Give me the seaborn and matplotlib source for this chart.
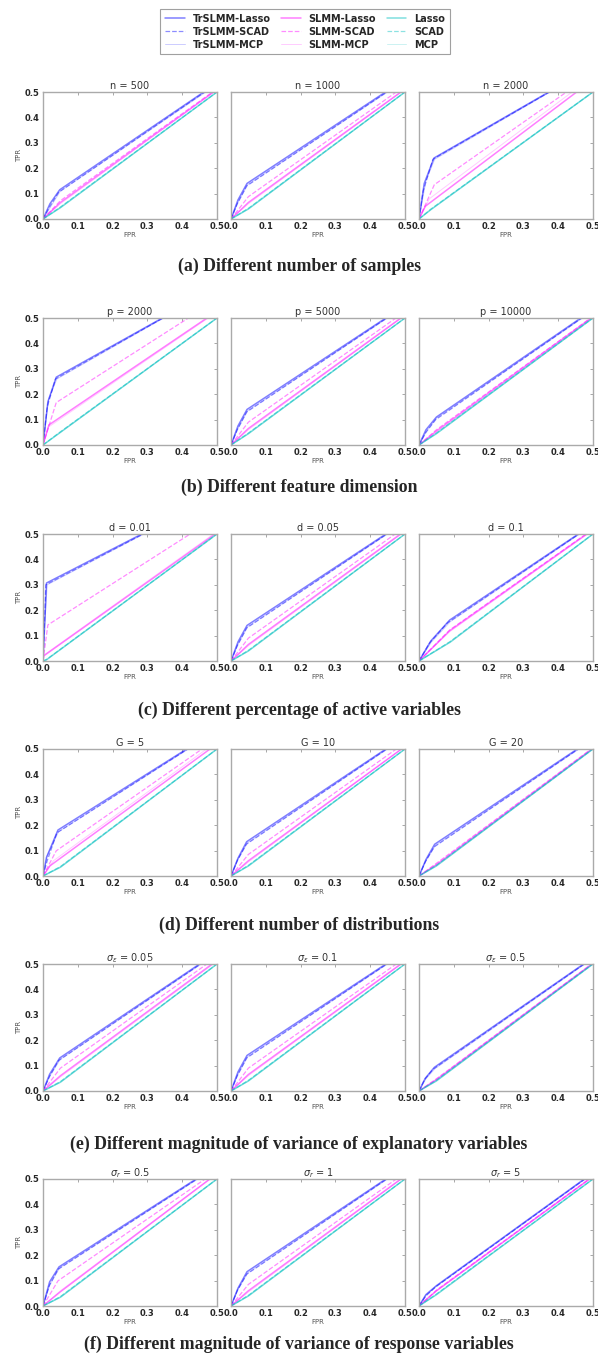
import matplotlib
matplotlib.use("Agg")
import matplotlib.pyplot as plt
from matplotlib.lines import Line2D
import seaborn as sns

methods = ["TrSLMM-Lasso", "TrSLMM-SCAD", "TrSLMM-MCP",
           "SLMM-Lasso", "SLMM-SCAD", "SLMM-MCP",
           "Lasso", "SCAD", "MCP"]

panel_titles = ["n = 500", "n = 1000", "n = 2000",
                "p = 2000", "p = 5000", "p = 10000",
                "d = 0.01", "d = 0.05", "d = 0.1",
                "G = 5", "G = 10", "G = 20",
                r"$\sigma_\epsilon$ = 0.05", r"$\sigma_\epsilon$ = 0.1", r"$\sigma_\epsilon$ = 0.5",
                r"$\sigma_r$ = 0.5", r"$\sigma_r$ = 1", r"$\sigma_r$ = 5"]

captions = ["(a) Different number of samples",
            "(b) Different feature dimension",
            "(c) Different percentage of active variables",
            "(d) Different number of distributions",
            "(e) Different magnitude of variance of explanatory variables",
            "(f) Different magnitude of variance of response variables"]

# knee of each ROC curve (one row per panel, one column per method)
knee_fpr = [
    [.048, .045, .05, .05, .05, .05, .05, .05, .05],     # n = 500
    [.046, .045, .048, .05, .05, .05, .05, .05, .05],    # n = 1000
    [.043, .04, .045, .018, .044, .03, .034, .034, .034],  # n = 2000
    [.038, .036, .04, .017, .038, .015, .043, .043, .043],  # p = 2000
    [.046, .045, .048, .05, .05, .05, .05, .05, .05],    # p = 5000
    [.05, .048, .05, .05, .05, .05, .05, .05, .05],      # p = 10000
    [.01, .008, .012, .002, .014, .004, .01, .01, .01],  # d = 0.01
    [.046, .045, .048, .05, .05, .05, .05, .05, .05],    # d = 0.05
    [.088, .082, .09, .088, .088, .088, .09, .09, .09],  # d = 0.1
    [.043, .04, .045, .02, .038, .03, .05, .05, .05],    # G = 5
    [.045, .044, .047, .05, .05, .05, .05, .05, .05],    # G = 10
    [.045, .044, .047, .05, .05, .05, .05, .05, .05],    # G = 20
    [.048, .045, .05, .05, .05, .05, .05, .05, .05],     # sigma 0.05
    [.046, .045, .048, .05, .05, .05, .05, .05, .05],    # sigma 0.1
    [.044, .04, .046, .05, .05, .05, .05, .05, .05],     # sigma 0.5
    [.046, .044, .048, .05, .043, .05, .05, .05, .05],   # sigma_r 0.5
    [.046, .045, .048, .05, .05, .05, .05, .05, .05],    # sigma_r 1
    [.05, .048, .05, .05, .05, .05, .05, .05, .05],      # sigma_r 5
]
knee_tpr = [
    [.115, .105, .11, .065, .072, .06, .045, .047, .043],
    [.14, .13, .135, .065, .088, .06, .04, .042, .038],
    [.24, .235, .235, .05, .135, .08, .037, .039, .036],
    [.267, .26, .26, .079, .167, .07, .043, .045, .042],
    [.14, .13, .135, .065, .09, .06, .045, .047, .043],
    [.11, .1, .105, .055, .06, .05, .045, .047, .043],
    [.307, .3, .3, .02, .142, .025, .005, .006, .004],
    [.14, .13, .135, .065, .09, .06, .04, .042, .038],
    [.161, .15, .155, .119, .122, .115, .075, .077, .073],
    [.181, .17, .175, .04, .099, .06, .035, .037, .033],
    [.135, .125, .13, .06, .085, .055, .04, .042, .038],
    [.125, .115, .12, .045, .05, .043, .04, .042, .038],
    [.13, .12, .125, .06, .09, .055, .035, .037, .033],
    [.14, .13, .135, .065, .09, .06, .04, .042, .038],
    [.093, .085, .088, .045, .048, .043, .04, .042, .038],
    [.154, .145, .15, .056, .099, .06, .035, .037, .033],
    [.135, .125, .13, .06, .085, .055, .04, .042, .038],
    [.08, .075, .078, .06, .062, .058, .045, .047, .043],
]
# FPR where each curve reaches TPR = 0.5
top_fpr = [
    [.462, .465, .468, .49, .487, .492, .5, .5, .5],
    [.444, .448, .45, .488, .475, .49, .5, .5, .5],
    [.373, .375, .377, .453, .424, .44, .5, .5, .5],
    [.343, .345, .347, .471, .418, .475, .5, .5, .5],
    [.445, .448, .45, .488, .474, .49, .5, .5, .5],
    [.465, .468, .47, .495, .493, .497, .5, .5, .5],
    [.284, .288, .29, .495, .423, .49, .5, .5, .5],
    [.445, .448, .45, .487, .472, .49, .5, .5, .5],
    [.458, .46, .462, .482, .48, .485, .5, .5, .5],
    [.413, .416, .418, .48, .457, .47, .5, .5, .5],
    [.445, .448, .45, .49, .475, .49, .5, .5, .5],
    [.455, .458, .46, .497, .495, .498, .5, .5, .5],
    [.45, .453, .455, .486, .471, .49, .5, .5, .5],
    [.445, .448, .45, .488, .475, .49, .5, .5, .5],
    [.473, .475, .477, .497, .496, .498, .5, .5, .5],
    [.44, .443, .445, .48, .466, .478, .5, .5, .5],
    [.445, .448, .45, .488, .475, .49, .5, .5, .5],
    [.475, .477, .478, .49, .489, .492, .5, .5, .5],
]
# extra point on the rise of the three TrSLMM curves
tr_mid_fpr = [
    [.02, .02, .025], [.02, .018, .02], [.015, .012, .02],
    [.014, .012, .016], [.02, .018, .02], [.02, .02, .022],
    [.004, .003, .005], [.02, .018, .02], [.034, .03, .036],
    [.01, .012, .012], [.02, .018, .02], [.02, .018, .02],
    [.019, .018, .02], [.02, .018, .02], [.018, .016, .02],
    [.019, .018, .02], [.02, .018, .02], [.02, .02, .02],
]
tr_mid_tpr = [
    [.06, .05, .055], [.075, .06, .065], [.14, .11, .15],
    [.17, .15, .18], [.075, .06, .065], [.06, .05, .055],
    [.12, .1, .14], [.075, .06, .065], [.079, .07, .075],
    [.073, .06, .08], [.07, .06, .065], [.065, .055, .06],
    [.066, .055, .06], [.075, .06, .065], [.05, .045, .048],
    [.095, .08, .085], [.07, .06, .065], [.045, .04, .042],
]

colors = ["blue"] * 3 + ["magenta"] * 3 + ["c"] * 3
styles = ["-", "--", "-"] * 3
widths = [1.1, 0.9, 0.7] * 3
alphas = [0.5, 0.45, 0.2] * 3

sns.set_style("white")
plt.rcParams["font.family"] = ["DejaVu Sans"]

fig = plt.figure(figsize=(5.98, 13.55), dpi=100)
W, H = 598.0, 1355.0
col_left = [43, 231, 419]
row_top = [92, 318, 534, 749, 964, 1179]
cap_y = [266, 487, 710, 925, 1144, 1344]
pw, ph = 174, 127
ticks = [0, 0.1, 0.2, 0.3, 0.4, 0.5]
tick_labels = ["0.0", "0.1", "0.2", "0.3", "0.4", "0.5"]

for r in range(6):
    for c in range(3):
        i = r * 3 + c
        ax = fig.add_axes([col_left[c] / W, 1 - (row_top[r] + ph) / H, pw / W, ph / H])
        for j in range(9):
            xs, ys = [0.0], [0.0]
            if j < 3:
                xs.append(tr_mid_fpr[i][j])
                ys.append(tr_mid_tpr[i][j])
            xs += [knee_fpr[i][j], top_fpr[i][j]]
            ys += [knee_tpr[i][j], 0.5]
            sns.lineplot(x=xs, y=ys, ax=ax, sort=False, estimator=None,
                         color=colors[j], linestyle=styles[j], linewidth=widths[j],
                         alpha=alphas[j], legend=False)
        ax.set_xlim(0, 0.5)
        ax.set_ylim(0, 0.5)
        ax.set_xticks(ticks)
        ax.set_yticks(ticks)
        ax.set_xticklabels(tick_labels, fontsize=6, fontweight="bold")
        ax.set_yticklabels(tick_labels if c == 0 else [], fontsize=6, fontweight="bold")
        ax.tick_params(direction="in", top=True, right=True, length=2.5, width=0.6,
                       color="#999999")
        ax.tick_params(axis="x", pad=2)
        ax.tick_params(axis="y", pad=2.5)
        for s in ax.spines.values():
            s.set_color("#aaaaaa")
            s.set_linewidth(1.0)
        ax.set_title(panel_titles[i], fontsize=7, pad=2, color="#333333")
        ax.set_xlabel("FPR", fontsize=5, labelpad=1, color="#555555")
        if c == 0:
            ax.set_ylabel("TPR", fontsize=5, labelpad=2, color="#555555")
        else:
            ax.set_ylabel("")
    fig.text(299 / W, 1 - cap_y[r] / H, captions[r], ha="center", va="center",
             fontsize=12.8, fontweight="bold", family="Liberation Serif")

handles = [Line2D([], [], color=colors[j], linestyle=styles[j], linewidth=widths[j],
                  alpha=alphas[j]) for j in range(9)]
leg = fig.legend(handles, methods, ncol=3, loc="upper center",
                 bbox_to_anchor=(305 / W, 1 - 4 / H),
                 prop={"weight": "bold", "size": 7}, frameon=True, fancybox=False,
                 handlelength=2.0, columnspacing=1.1, borderpad=0.5, labelspacing=0.3)
leg.get_frame().set_edgecolor("#888888")
leg.get_frame().set_linewidth(0.8)

fig.savefig("out.png", dpi=100)
